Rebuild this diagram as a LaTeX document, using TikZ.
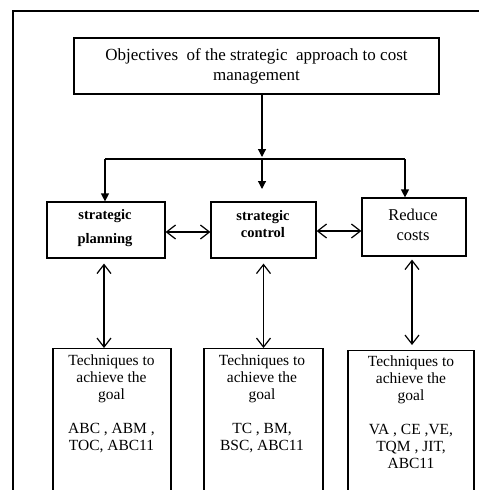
\documentclass[tikz,border=0pt]{standalone}
\usepackage{fontspec}
\setmainfont{Liberation Serif}
\usetikzlibrary{arrows.meta}
\begin{document}
\begin{tikzpicture}[x=1pt,y=-1pt,
  box/.style={draw, line width=1.2pt, inner sep=0pt},
  conn/.style={line width=1.2pt},
  arr/.style={conn, -{Triangle[width=8pt,length=8pt]}},
  dbl/.style={conn, {Straight Barb[length=9pt,width=14pt]}-{Straight Barb[length=9pt,width=14pt]}},
  lbl/.style={align=center, inner sep=0pt},
  smallb/.style={lbl, font=\fontsize{14.5}{17}\selectfont\bfseries},
  tech/.style={lbl, font=\fontsize{15.5}{17}\selectfont, anchor=north}
]
\useasboundingbox (0,0) rectangle (479,490);
\clip (0,0) rectangle (479,490);
\fill[white] (0,0) rectangle (479,490);
% outer frame
\draw[line width=2.5pt] (13,500) -- (13,11) -- (490,11);
% top box
\node[box, minimum width=365pt, minimum height=56pt, align=center,
  font=\fontsize{17}{20}\selectfont] (top) at (256.5,66)
  {Objectives\ \ of the strategic\ \ approach to cost\\management\vphantom{g}};
% second row
\node[box, minimum width=118pt, minimum height=56pt] (sp) at (106,230) {};
\node[box, minimum width=105pt, minimum height=56pt] (sc) at (263.5,230) {};
\node[box, minimum width=104pt, minimum height=58pt] (rc) at (414,227) {};
\node[smallb] (spt) at (105,228) {strategic\\[7pt]planning};
\node[smallb] (sct) at (263,224) {strategic\\control};
\node[lbl, font=\fontsize{16.5}{20}\selectfont] (rct) at (413,225) {Reduce\\costs};
% third row
\node[box, minimum width=118pt, minimum height=200pt, anchor=north] (b1) at (112,348) {};
\node[box, minimum width=119pt, minimum height=200pt, anchor=north] (b2) at (263.5,348) {};
\node[box, minimum width=126pt, minimum height=200pt, anchor=north] (b3) at (411,350) {};
\node[tech] (b1t) at (111.5,355) {Techniques to\\achieve the\\goal\\[17pt]ABC , ABM ,\\TOC, ABC11};
\node[tech] (b2t) at (262,355) {Techniques to\\achieve the\\goal\\[17pt]TC , BM,\\BSC, ABC11};
\node[tech] (b3t) at (411,356) {Techniques to\\achieve the\\goal\\[17pt]VA , CE ,VE,\\TQM , JIT,\\ABC11};
% connectors top
\coordinate (j) at (262,159);
\coordinate (jl) at (105,159);
\coordinate (jr) at (405,159);
\coordinate (jc) at (262,189);
\draw[arr] ([xshift=5.5pt]top.south) -- ([yshift=2pt]j);
\draw[conn] (jl) -- (jr);
\draw[arr] (jl) -- (jl |- sp.north);
\draw[arr] (jr) -- (jr |- rc.north);
\draw[arr] (j) -- (jc);
% horizontal double arrows
\draw[dbl] ([yshift=-2pt]sp.east) -- ([yshift=-2pt]sc.west);
\draw[dbl] ([yshift=-1pt]sc.east) -- ([yshift=-1pt]sc.east -| rc.west);
% vertical double arrows
\draw[dbl] ([xshift=-2pt,yshift=-5pt]sp.south) -- ([xshift=-2pt]sp.south |- b1.north);
\draw[dbl] ([yshift=-5pt]sc.south) -- (sc.south |- b2.north);
\draw[dbl] ([xshift=-2pt,yshift=-3pt]rc.south) -- ([xshift=-2pt,yshift=5pt]rc.south |- b3.north);
\end{tikzpicture}
\end{document}
